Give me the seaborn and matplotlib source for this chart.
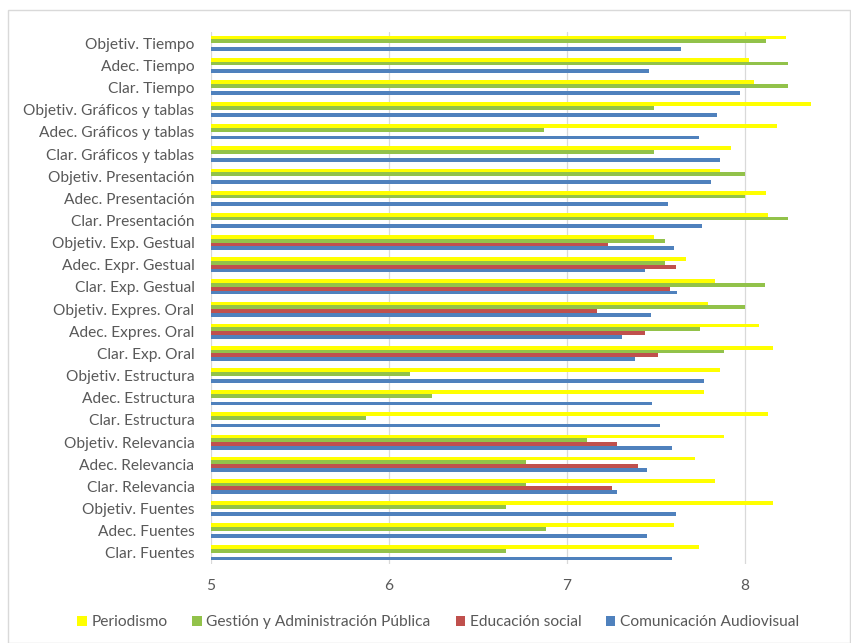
import numpy as np
import pandas as pd
import matplotlib
matplotlib.use('Agg')
import matplotlib.pyplot as plt
from matplotlib.patches import Rectangle
import seaborn as sb

categorias = ["Objetiv. Tiempo", "Adec. Tiempo", "Clar. Tiempo",
              "Objetiv. Gráficos y tablas", "Adec. Gráficos y tablas", "Clar. Gráficos y tablas",
              "Objetiv. Presentación", "Adec. Presentación", "Clar. Presentación",
              "Objetiv. Exp. Gestual", "Adec. Expr. Gestual", "Clar. Exp. Gestual",
              "Objetiv. Expres. Oral", "Adec. Expres. Oral", "Clar. Exp. Oral",
              "Objetiv. Estructura", "Adec. Estructura", "Clar. Estructura",
              "Objetiv. Relevancia", "Adec. Relevancia", "Clar. Relevancia",
              "Objetiv. Fuentes", "Adec. Fuentes", "Clar. Fuentes"]

periodismo = [8.23, 8.02, 8.05, 8.37, 8.18, 7.92, 7.86, 8.12, 8.13,
              7.49, 7.67, 7.83, 7.79, 8.08, 8.16, 7.86, 7.77, 8.13,
              7.88, 7.72, 7.83, 8.16, 7.60, 7.74]
gestion = [8.12, 8.24, 8.24, 7.49, 6.87, 7.49, 8.00, 8.00, 8.24,
           7.55, 7.55, 8.11, 8.00, 7.75, 7.88, 6.12, 6.24, 5.87,
           7.11, 6.77, 6.77, 6.66, 6.88, 6.66]
educacion = [np.nan, np.nan, np.nan, np.nan, np.nan, np.nan, np.nan, np.nan, np.nan,
             7.23, 7.61, 7.58, 7.17, 7.44, 7.51, np.nan, np.nan, np.nan,
             7.28, 7.40, 7.25, np.nan, np.nan, np.nan]
comunicacion = [7.64, 7.46, 7.97, 7.84, 7.74, 7.86, 7.81, 7.57, 7.76,
                7.60, 7.44, 7.62, 7.47, 7.31, 7.38, 7.77, 7.48, 7.52,
                7.59, 7.45, 7.28, 7.61, 7.45, 7.59]

series = ["Periodismo", "Gestión y Administración Pública", "Educación social", "Comunicación Audiovisual"]
colores = ["#FFFF00", "#92C24A", "#C0504D", "#4F81BD"]

filas = []
for nombre, valores in zip(series, [periodismo, gestion, educacion, comunicacion]):
    for cat, v in zip(categorias, valores):
        filas.append({"categoria": cat, "serie": nombre, "valor": v})
df = pd.DataFrame(filas)

sb.set_style("white")
plt.rcParams['font.family'] = ['Lato', 'DejaVu Sans']
gris = "#595959"

fig = plt.figure(figsize=(8.51, 6.43), dpi=100)
ax = fig.add_axes([0.248, 0.123, 0.732, 0.827])

sb.barplot(data=df, y="categoria", x="valor", hue="serie", order=categorias,
           hue_order=series, palette=colores, orient="h", width=0.68,
           saturation=1, linewidth=0, ax=ax, legend=True)

ax.set_xlim(5, 8.5)
ax.set_xticks([5, 6, 7, 8])
ax.set_xticklabels(["5", "6", "7", "8"])
ax.xaxis.grid(True, color="#D9D9D9", linewidth=0.9)
ax.set_axisbelow(True)
for s in ax.spines.values():
    s.set_visible(False)
ax.set_xlabel("")
ax.set_ylabel("")
ax.tick_params(axis="both", length=0, colors=gris, labelsize=11.2)
ax.tick_params(axis="x", pad=11)
ax.tick_params(axis="y", pad=12)

handles, labels = ax.get_legend_handles_labels()
ax.get_legend().remove()
fig.legend(handles, labels, loc="center", bbox_to_anchor=(0.515, 0.032), ncol=4,
           frameon=False, fontsize=11.2, handlelength=0.6, handleheight=0.6,
           handletextpad=0.3, columnspacing=1.6, labelcolor=gris)

fig.patches.append(Rectangle((0.009, 0.0), 0.99, 0.985, transform=fig.transFigure,
                             fill=False, edgecolor="#D9D9D9", linewidth=1))

fig.savefig("out.png", dpi=100)
